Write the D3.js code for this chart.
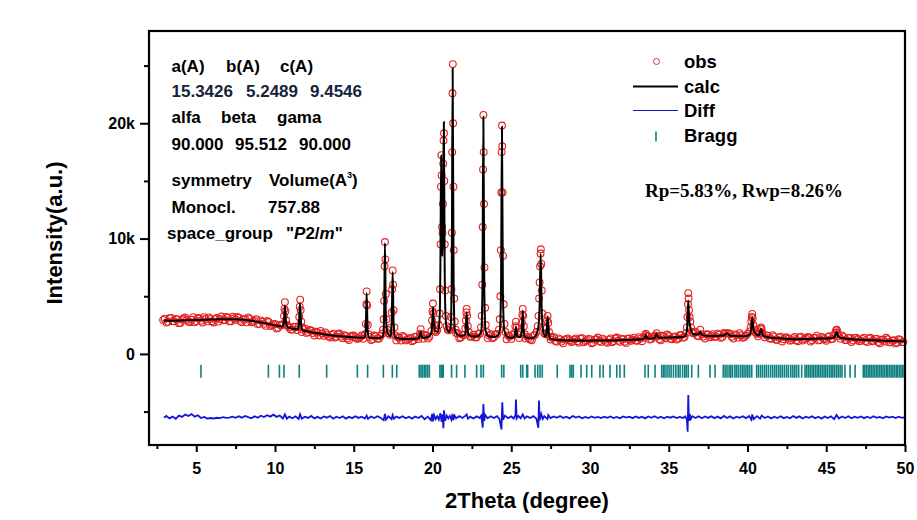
<!DOCTYPE html>
<html><head><meta charset="utf-8">
<script src="https://cdn.jsdelivr.net/npm/d3@7/dist/d3.min.js"></script>
<style>body{margin:0;background:#fff}svg{display:block}</style>
</head><body><svg id="c" width="917" height="520"></svg>
<script>
// ---------- data ----------
const xTicksMajor = [5,10,15,20,25,30,35,40,45,50];
const xTicksMinor = [2.5,7.5,12.5,17.5,22.5,27.5,32.5,37.5,42.5,47.5];
const yTicksMajor = [0,10000,20000];
const yTickLabels = ["0","10k","20k"];
const yTicksMinor = [-5000,5000,15000,25000];
const diffOffset = -5500;

// calculated profile [2theta, intensity]
const calcPts = [
[2.95,2900],[3.5,2880],[4.0,2900],[4.5,2920],[5.0,2940],[5.5,2960],[6.0,2980],[6.5,3000],[7.0,3010],[7.5,3000],[8.0,2960],[8.5,2870],[9.0,2760],[9.5,2620],[10.0,2480],[10.3,2400],
[10.45,2370],[10.56,2750],[10.63,4200],[10.70,2700],[10.82,2300],[11.0,2230],[11.3,2150],
[11.45,2120],[11.52,2600],[11.59,4400],[11.66,2550],[11.75,2060],
[12.0,1960],[12.5,1830],[13.0,1720],[13.5,1620],[14.0,1550],[14.5,1490],[15.0,1440],[15.5,1400],
[15.7,1420],[15.76,2100],[15.82,5270],[15.88,2050],[15.97,1400],
[16.3,1380],[16.6,1380],[16.8,1450],
[16.88,1700],[16.93,3500],[16.98,9620],[17.04,3300],[17.12,1900],[17.2,1700],
[17.34,1500],[17.41,2800],[17.47,7100],[17.53,2700],[17.62,1450],
[17.9,1320],[18.3,1290],[18.7,1300],[19.0,1330],
[19.15,1380],[19.25,1900],[19.35,1400],[19.6,1420],[19.8,1550],
[19.92,1800],[19.98,2600],[20.03,4050],[20.09,2600],[20.18,2000],
[20.35,1900],[20.45,3000],[20.50,7500],[20.55,17200],[20.60,9000],[20.64,8500],[20.68,14000],[20.72,20100],[20.77,8000],[20.83,3200],[20.92,2100],
[21.05,1900],[21.15,2200],[21.22,6500],[21.28,24780],[21.34,6000],[21.42,2100],
[21.6,1650],[21.9,1550],
[22.07,1700],[22.12,2300],[22.17,3620],[22.22,2300],[22.3,1650],
[22.6,1500],[22.9,1550],
[23.1,2000],[23.17,5500],[23.23,20570],[23.29,5300],[23.37,2000],
[23.6,1500],[23.9,1480],[24.15,1600],
[24.28,2100],[24.35,5600],[24.41,19700],[24.47,5300],[24.56,2000],
[24.8,1450],[25.1,1400],
[25.22,1550],[25.3,2350],[25.38,1550],[25.55,1450],
[25.64,1650],[25.68,2300],[25.73,3770],[25.78,2200],[25.86,1500],
[26.1,1350],[26.4,1400],[26.6,1700],
[26.72,2300],[26.8,4200],[26.87,8690],[26.93,4000],[27.02,2000],
[27.18,1500],[27.25,2000],[27.31,3240],[27.37,1950],[27.46,1350],
[27.8,1220],[28.3,1180],[29.0,1160],[29.8,1150],[30.5,1160],[31.3,1170],[32.0,1200],[32.7,1230],[33.3,1280],
[33.45,1320],[33.55,1650],[33.65,1330],
[33.9,1340],[34.1,1380],[34.23,1700],[34.35,1400],[34.8,1420],[35.3,1430],[35.8,1460],[36.05,1550],
[36.14,1900],[36.19,2900],[36.24,4630],[36.29,3000],[36.35,2500],[36.45,1900],[36.6,1700],
[36.9,1680],[37.0,1950],[37.1,1650],
[37.5,1560],[38.0,1560],[38.5,1600],[38.7,1800],[38.9,1580],[39.3,1550],[39.7,1520],[40.05,1600],
[40.18,1800],[40.24,2300],[40.3,3190],[40.36,2300],[40.48,1800],
[40.72,1600],[40.86,2170],[40.98,1580],
[41.4,1430],[42.0,1350],[42.6,1300],[43.2,1280],[43.8,1290],[44.4,1320],[45.0,1340],[45.4,1380],
[45.55,1500],[45.66,1970],[45.76,1500],
[46.1,1360],[46.7,1280],[47.3,1220],[48.0,1180],[48.7,1140],[49.4,1110],[50.0,1080]
];

// observed points [2theta, intensity]
const obsPts = [
[2.9,2950],[3.0,3050],[3.2,2780],[3.4,3120],[3.6,2830],[3.8,2990],[4.0,2690],[4.2,3085],[4.4,2935],[4.6,2755],[4.8,3190],
[5.0,2850],[5.2,3065],[5.4,2725],[5.6,3025],[5.8,3160],[6.0,2840],[6.2,3020],[6.4,2795],[6.6,3240],[6.8,2955],
[7.0,3140],[7.2,2828],[7.4,3073],[7.6,3205],[7.8,2860],[8.0,3000],[8.2,2735],[8.4,3040],[8.6,2790],[8.8,3005],
[9.0,2610],[9.2,2785],[9.4,2430],[9.6,2760],[9.8,2495],[10.0,2600],[10.2,2270],[10.4,2475],
[10.52,2600],[10.57,3300],[10.6,3900],[10.63,4490],[10.66,3700],[10.7,2900],[10.75,2500],
[10.8,2440],[11.0,2120],[11.2,2360],[11.4,2070],
[11.5,2400],[11.54,3200],[11.57,4100],[11.6,4700],[11.63,3800],[11.67,2800],[11.72,2300],
[11.8,2120],[12.0,1820],[12.2,2080],[12.4,1805],[12.6,1920],[12.8,1595],[13.0,1780],[13.2,1870],[13.4,1520],[13.6,1645],
[13.8,1420],[14.0,1700],[14.2,1495],[14.4,1620],[14.6,1340],[14.8,1520],[15.0,1610],[15.2,1315],[15.4,1440],[15.6,1310],
[15.72,1700],[15.77,2600],[15.8,4300],[15.82,5420],[15.85,4200],[15.89,2500],[15.94,1700],
[16.0,1475],[16.2,1265],[16.4,1530],[16.6,1320],[16.8,1750],
[16.86,2100],[16.9,3000],[16.93,4600],[16.96,7600],[16.98,9700],[17.01,8200],[17.04,5200],[17.08,3000],[17.13,2100],[17.2,1800],
[17.3,1650],[17.37,2300],[17.41,3600],[17.44,5600],[17.47,7240],[17.5,6000],[17.53,3800],[17.58,2300],[17.64,1600],
[17.8,1450],[18.0,1160],[18.2,1465],[18.4,1250],[18.6,1385],[18.8,1175],[19.0,1490],
[19.2,1750],[19.25,2150],[19.3,1700],[19.4,1320],[19.6,1590],[19.8,1490],
[19.93,2000],[19.97,2900],[20.0,3700],[20.03,4370],[20.06,3500],[20.1,2500],[20.15,2000],[20.22,1900],[20.3,2050],
[20.4,2500],[20.45,3500],[20.48,5600],[20.51,9500],[20.54,14500],[20.56,17240],[20.58,15500],[20.61,11000],[20.64,10500],[20.66,13000],
[20.68,16500],[20.7,18500],[20.73,19130],[20.75,15000],[20.78,9500],[20.81,5500],[20.85,3300],[20.9,2400],[20.97,2100],[21.05,2050],
[21.13,2300],[21.17,3200],[21.2,5600],[21.23,10500],[21.25,17500],[21.27,22600],[21.29,25130],[21.31,20000],[21.33,14500],[21.35,9000],
[21.38,4800],[21.42,2800],[21.47,2100],[21.6,1770],[21.8,1430],[22.0,1640],
[22.08,2200],[22.12,2900],[22.15,3600],[22.17,3900],[22.2,3300],[22.24,2400],[22.3,1900],
[22.4,1480],[22.6,1660],[22.8,1440],[23.0,1750],
[23.08,2300],[23.12,3300],[23.16,6000],[23.19,11000],[23.21,16000],[23.23,20720],[23.25,17500],[23.27,13000],[23.3,7500],[23.34,4000],[23.38,2500],[23.44,1900],
[23.6,1600],[23.8,1350],[24.0,1700],
[24.22,2100],[24.27,3000],[24.31,5000],[24.34,9000],[24.37,14000],[24.39,17500],[24.41,19800],[24.43,18000],[24.45,14000],[24.48,8500],[24.52,4300],[24.57,2600],[24.63,1900],
[24.8,1590],[25.0,1300],
[25.2,1800],[25.26,2400],[25.3,2800],[25.34,2300],[25.4,1700],[25.5,1370],
[25.62,1900],[25.67,2700],[25.7,3400],[25.73,3900],[25.76,3300],[25.8,2400],[25.86,1700],
[26.0,1500],[26.2,1250],[26.4,1560],[26.6,1900],
[26.68,2400],[26.73,3300],[26.77,4800],[26.8,6200],[26.83,7600],[26.86,8700],[26.88,9070],[26.91,7800],[26.94,5500],[26.98,3500],[27.03,2300],[27.1,1800],
[27.18,1700],[27.23,2200],[27.27,2900],[27.31,3300],[27.35,2700],[27.4,1900],[27.47,1500],
[27.6,1400],[27.8,1120],[28.0,1350],[28.2,1065],[28.4,1240],[28.6,1345],[28.8,1030],[29.0,1250],[29.2,1098],[29.4,1335],
[29.6,1002],[29.8,1190],[30.0,1282],[30.2,985],[30.4,1268],[30.6,1110],[30.8,1323],[31.0,1046],[31.2,1239],[31.4,1015],
[31.6,1332],[31.8,1150],[32.0,1320],[32.2,1059],[32.4,1307],[32.6,1146],[32.8,1407],[33.0,1140],[33.2,1328],
[33.4,1420],[33.5,1650],[33.55,1750],[33.6,1550],[33.8,1245],[34.0,1480],
[34.15,1600],[34.23,1800],[34.3,1550],[34.4,1260],[34.6,1572],[34.8,1360],[35.0,1554],[35.2,1268],[35.4,1504],[35.6,1336],[35.8,1640],[36.0,1460],
[36.1,1800],[36.15,2300],[36.19,3200],[36.22,4300],[36.24,5270],[36.26,4800],[36.29,3800],[36.33,3200],[36.37,2800],[36.42,2300],[36.48,1900],
[36.6,1800],[36.8,1580],[37.0,2100],[37.2,1500],[37.4,1700],[37.6,1450],[37.8,1710],[38.0,1500],[38.2,1670],[38.4,1465],
[38.6,1800],[38.8,1800],[39.0,1485],[39.2,1695],[39.4,1415],[39.6,1615],[39.8,1470],[40.0,1740],
[40.14,1950],[40.2,2300],[40.24,2800],[40.27,3200],[40.3,3470],[40.33,3100],[40.37,2500],[40.42,2100],[40.5,1850],[40.6,1740],
[40.72,1750],[40.78,1950],[40.83,2200],[40.86,2300],[40.9,2150],[40.96,1800],
[41.1,1440],[41.3,1580],[41.5,1300],[41.7,1495],[41.9,1225],[42.1,1495],[42.3,1275],[42.5,1418],[42.7,1147],[42.9,1370],
[43.1,1183],[43.3,1440],[43.5,1154],[43.7,1338],[43.9,1442],[44.1,1185],[44.3,1405],[44.5,1172],[44.7,1460],[44.9,1277],
[45.1,1470],[45.3,1270],[45.5,1600],[45.58,1850],[45.63,2050],[45.67,2100],[45.72,1850],[45.8,1550],
[45.9,1320],[46.1,1480],[46.3,1195],[46.5,1405],[46.7,1170],[46.9,1402],[47.1,1090],[47.3,1300],[47.5,1109],[47.7,1347],
[47.9,1096],[48.1,1294],[48.3,1033],[48.5,1241],[48.7,1080],[48.9,1272],[49.1,1003],[49.3,1184],[49.5,992],[49.7,1212],[49.9,1023],
// interleaved scan points between the ones above
[3.1,2715],[3.3,3095],[3.5,2840],[3.7,3035],[3.9,2665],[4.1,2985],[4.3,3170],[4.5,2800],[4.7,2960],[4.9,2738],
[5.1,3114],[5.3,2882],[5.5,3190],[5.7,2818],[5.9,3036],[6.1,2724],[6.3,3112],[6.5,3020],[6.7,2914],[6.9,3198],
[7.1,2830],[7.3,3215],[7.5,2960],[7.7,3135],[7.9,2738],[8.1,3025],[8.3,3165],[8.5,2750],[8.7,2855],[8.9,2580],
[9.1,2905],[9.3,2605],[9.5,2850],[9.7,2415],[9.9,2570],[10.1,2195],[10.3,2520],[10.9,2285],[11.1,2110],[11.3,2340],
[11.7,1890],[11.9,2210],[12.1,1895],[12.3,2030],[12.5,1600],[12.7,1865],[12.9,2000],[13.1,1580],[13.3,1690],[13.5,1420],
[13.7,1760],[13.9,1490],[14.1,1768],[14.3,1364],[14.5,1550],[14.7,1210],[14.9,1570],[15.1,1452],[15.3,1326],[15.5,1590],
[16.1,1210],[16.3,1590],[16.5,1340],[16.7,1550],[17.7,1170],[17.9,1400],[18.1,1565],[18.3,1170],[18.5,1325],[18.7,1100],
[18.9,1490],[19.1,1290],[19.5,1640],[19.7,1330],[21.5,1810],[21.7,1360],[21.9,1670],[22.5,1500],[22.7,1420],[22.9,1740],
[23.5,1370],[23.7,1700],[23.9,1440],[24.1,1710],[24.7,1270],[24.9,1510],[25.1,1660],[25.9,1330],[26.1,1380],[26.3,1180],
[26.5,1670],[27.5,1250],[27.7,1470],[27.9,1060],[28.1,1255],[28.3,920],[28.5,1295],[28.7,1190],[28.9,1072],[29.1,1348],
[29.3,976],[29.5,1363],[29.7,1111],[29.9,1300],[30.1,923],[30.3,1236],[30.5,1420],[30.7,1042],[30.9,1195],[31.1,968],
[31.3,1340],[31.5,1109],[31.7,1417],[31.9,1046],[32.1,1264],[32.3,953],[32.5,1341],[32.7,1250],[32.9,1155],[33.1,1452],
[33.3,1100],[33.7,1540],[33.9,1300],[34.1,1530],[34.5,1175],[34.7,1496],[34.9,1682],[35.1,1306],[35.3,1460],[35.5,1240],
[35.7,1624],[35.9,1410],[36.55,1780],[36.7,1920],[36.9,1530],[37.1,1710],[37.3,1340],[37.5,1680],[37.7,1580],[37.9,1470],
[38.1,1755],[38.3,1398],[38.5,1810],[38.7,1760],[38.9,1730],[39.1,1330],[39.3,1630],[39.5,1795],[39.7,1400],[39.9,1590],
[40.66,1520],[41.2,1610],[41.4,1360],[41.6,1630],[41.8,1230],[42.0,1410],[42.2,1075],[42.4,1437],[42.6,1320],[42.8,1203],
[43.0,1477],[43.2,1100],[43.4,1492],[43.6,1246],[43.8,1440],[44.0,1070],[44.2,1390],[44.4,1580],[44.6,1206],[44.8,1363],
[45.0,1140],[45.2,1530],[45.4,1310],[46.0,1600],[46.2,1197],[46.4,1380],[46.6,1033],[46.8,1390],[47.0,1270],[47.2,1140],
[47.4,1404],[47.6,1023],[47.8,1401],[48.0,1140],[48.2,1319],[48.4,927],[48.6,1226],[48.8,1396],[49.0,1007],[49.2,1149],
[49.4,910],[49.6,1267],[49.8,1017]
];

// residual obs - calc [2theta, difference]
const diffPts = [
[2.95,-40],[3.1,120],[3.3,-90],[3.5,60],[3.7,-130],[3.9,150],[4.1,40],[4.3,250],[4.5,110],[4.7,280],[4.9,60],[5.1,180],[5.3,-60],[5.5,30],
[5.7,-110],[5.9,-60],[6.1,-100],[6.3,-40],[6.5,-70],[6.7,10],[6.9,-50],[7.1,-20],[7.3,60],[7.5,-40],[7.7,90],[7.9,-30],[8.1,120],[8.3,10],
[8.5,-80],[8.7,100],[8.9,-40],[9.1,140],[9.3,20],[9.5,180],[9.7,60],[9.9,230],[10.1,40],[10.3,160],[10.5,-100],[10.63,260],[10.75,-120],
[10.9,60],[11.1,-80],[11.3,90],[11.5,-140],[11.59,270],[11.7,-110],[11.9,60],[12.1,-50],[12.3,120],[12.5,-90],[12.7,40],[12.9,-100],
[13.1,80],[13.3,-30],[13.5,110],[13.7,-120],[13.9,50],[14.1,-60],[14.3,90],[14.5,-110],[14.7,40],[14.9,-70],[15.1,100],[15.3,-50],
[15.5,60],[15.7,-100],[15.82,150],[15.9,-130],[16.1,70],[16.3,-60],[16.5,90],[16.7,-40],[16.9,-250],[16.98,300],[17.05,-200],[17.2,80],
[17.4,-150],[17.47,200],[17.55,-120],[17.7,60],[17.9,-50],[18.1,90],[18.3,-80],[18.5,50],[18.7,-110],[18.9,70],[19.1,-60],[19.3,120],
[19.5,-160],[19.7,60],[19.9,-250],[19.98,300],[20.03,-350],[20.1,200],[20.2,-150],[20.3,100],[20.4,-200],[20.5,350],[20.58,-400],
[20.64,250],[20.69,-950],[20.73,600],[20.8,-300],[20.9,150],[21.0,-100],[21.1,120],[21.2,-200],[21.27,300],[21.32,-250],[21.4,150],
[21.5,-80],[21.7,100],[21.9,-60],[22.1,150],[22.17,250],[22.25,-120],[22.4,60],[22.6,-100],[22.8,80],[23.0,-60],[23.1,150],
[23.19,-900],[23.23,1150],[23.28,-300],[23.35,200],[23.5,-80],[23.7,90],[23.9,-60],[24.1,100],[24.25,-150],[24.38,-1050],[24.43,1300],
[24.48,-200],[24.6,150],[24.8,-70],[25.0,80],[25.15,-100],[25.27,200],[25.3,1550],[25.34,-100],[25.45,120],[25.6,-80],[25.73,250],
[25.85,-100],[26.0,80],[26.2,-60],[26.4,100],[26.6,-120],[26.72,-900],[26.76,1450],[26.8,-250],[26.9,300],[27.0,-150],[27.1,100],
[27.3,-150],[27.35,200],[27.5,-60],[27.7,80],[27.9,-40],[28.1,120],[28.3,-50],[28.5,60],[28.7,-90],[28.9,110],[29.1,-20],[29.3,70],
[29.5,-80],[29.7,40],[29.9,-60],[30.1,80],[30.3,-50],[30.5,30],[30.7,-70],[30.9,60],[31.1,-40],[31.3,80],[31.5,-60],[31.7,40],
[31.9,-80],[32.1,70],[32.3,-30],[32.5,50],[32.7,-70],[32.9,80],[33.1,-50],[33.3,60],[33.5,-90],[33.7,70],[33.9,-40],[34.1,90],
[34.3,-60],[34.5,50],[34.7,-80],[34.9,60],[35.1,-30],[35.3,80],[35.5,-70],[35.7,40],[35.9,-50],[36.05,80],[36.15,-200],[36.2,-1250],
[36.24,1930],[36.28,-300],[36.33,300],[36.4,-150],[36.5,100],[36.7,-60],[36.9,90],[37.1,-80],[37.3,70],[37.5,-50],[37.7,100],
[37.9,-70],[38.1,60],[38.3,-90],[38.5,120],[38.7,-60],[38.9,80],[39.1,-100],[39.3,60],[39.5,-40],[39.7,90],[39.9,-70],[40.1,120],
[40.25,-200],[40.3,250],[40.4,-150],[40.6,100],[40.8,-120],[40.9,150],[41.1,-60],[41.3,70],[41.5,-90],[41.7,50],[41.9,-60],[42.1,90],
[42.3,-70],[42.5,40],[42.7,-80],[42.9,110],[43.1,-50],[43.3,80],[43.5,-100],[43.7,60],[43.9,-40],[44.1,100],[44.3,-80],[44.5,50],
[44.7,-110],[44.9,70],[45.1,-60],[45.3,90],[45.5,-150],[45.66,200],[45.8,-100],[46.0,70],[46.2,-60],[46.4,90],[46.6,-80],[46.8,60],
[47.0,-40],[47.2,80],[47.4,-70],[47.6,50],[47.8,-60],[48.0,90],[48.2,-50],[48.4,40],[48.6,-80],[48.8,70],[49.0,-30],[49.2,60],
[49.4,-70],[49.6,50],[49.8,-40],[50.0,20]
];

// Bragg reflection positions (2theta)
const braggPos = [
5.30,9.58,10.28,10.57,11.54,13.28,15.23,15.88,16.88,17.45,17.73,
19.16,19.27,19.37,19.48,19.58,19.69,19.80,20.47,20.55,20.62,20.68,21.21,21.53,22.06,22.80,23.08,23.23,24.39,24.53,25.60,25.73,25.98,
26.04,26.51,26.68,26.83,26.97,27.92,28.73,28.84,28.94,29.43,29.79,30.11,30.63,30.84,31.27,31.70,31.90,32.18,33.49,33.70,34.13,
34.55,34.66,34.76,34.89,35.02,35.15,35.30,35.45,35.60,35.72,35.88,36.02,36.12,36.24,36.46,36.88,37.62,37.94,
38.46,38.58,38.70,38.83,38.94,39.05,39.20,39.30,39.42,39.55,39.67,39.78,39.90,40.02,40.14,40.27,
40.58,40.70,40.83,40.95,41.08,41.20,41.33,41.47,41.60,41.73,41.85,41.98,42.10,42.22,42.35,42.48,42.60,42.75,42.88,43.00,43.12,43.25,43.44,
43.65,43.76,43.87,43.98,44.10,44.20,44.31,44.42,44.53,44.64,44.75,44.86,44.97,45.08,45.20,45.31,45.42,45.53,45.65,45.76,45.88,46.00,46.19,
46.51,46.83,47.35,47.45,47.55,47.66,47.76,47.86,47.97,48.07,48.18,48.28,48.39,48.49,48.60,48.70,48.81,48.91,49.02,49.12,49.23,49.33,49.44,49.54,49.65,49.75,49.86,49.96
];
const braggLevel = -1500;

const legendLabels = ["obs","calc","Diff","Bragg"];
const cellHeader = ["a(A)","b(A)","c(A)"];
const cellValues = ["15.3426","5.2489","9.4546"];
const angleHeader = ["alfa","beta","gama"];
const angleValues = ["90.000","95.512","90.000"];
const symmetryLabel = "symmetry", volumeLabel = "Volume(A", crystalSystem = "Monocl.", volumeValue = "757.88";
const spaceGroupLabel = "space_group";
const rFactors = "Rp=5.83%, Rwp=8.26%";
const xTitle = "2Theta (degree)", yTitle = "Intensity(a.u.)";

// ---------- drawing ----------
const svg = d3.select("#c");
const F = "Arial, 'Liberation Sans', sans-serif";
const L = 149, R = 905, T = 31, B = 445;
const x = d3.scaleLinear().domain([2,50]).range([L,R]);
const y = d3.scaleLinear().domain([-7900,28000]).range([B,T]);
const obsCol = "#e4201e", calcCol = "#000", diffCol = "#1414d8", braggCol = "#0e8080";

// obs circles
svg.append("g").selectAll("circle").data(obsPts).join("circle")
  .attr("cx", d=>x(d[0])).attr("cy", d=>y(d[1])).attr("r",3.4)
  .attr("fill","none").attr("stroke",obsCol).attr("stroke-width",1.1);

// calc line
svg.append("path").datum(calcPts)
  .attr("d", d3.line().x(d=>x(d[0])).y(d=>y(d[1])).curve(d3.curveMonotoneX))
  .attr("fill","none").attr("stroke",calcCol).attr("stroke-width",2);

// Bragg ticks
svg.append("g").selectAll("line").data(braggPos).join("line")
  .attr("x1", d=>x(d)).attr("x2", d=>x(d))
  .attr("y1", y(braggLevel)-6.5).attr("y2", y(braggLevel)+6.5)
  .attr("stroke",braggCol).attr("stroke-width",1.6);

// diff line
svg.append("path").datum(diffPts)
  .attr("d", d3.line().x(d=>x(d[0])).y(d=>y(d[1]+diffOffset)))
  .attr("fill","none").attr("stroke",diffCol).attr("stroke-width",1.8);

// frame
svg.append("rect").attr("x",L).attr("y",T).attr("width",R-L).attr("height",B-T)
  .attr("fill","none").attr("stroke","#000").attr("stroke-width",2.2);

// axes
function styleAxis(g){
  g.select(".domain").remove();
  g.selectAll(".tick line").attr("stroke","#000").attr("stroke-width",2);
  g.selectAll("text").attr("font-family",F).attr("font-weight","bold").attr("font-size",16).attr("fill","#000");
}
svg.append("g").attr("transform",`translate(0,${B})`)
  .call(d3.axisBottom(x).tickValues(xTicksMajor).tickSize(7).tickPadding(11).tickFormat(d3.format("d"))).call(styleAxis);
svg.append("g").attr("transform",`translate(0,${B})`)
  .call(d3.axisBottom(x).tickValues(xTicksMinor).tickSize(4).tickFormat("")).call(styleAxis);
svg.append("g").attr("transform",`translate(${L},0)`)
  .call(d3.axisLeft(y).tickValues(yTicksMajor).tickSize(9).tickPadding(5).tickFormat((d,i)=>yTickLabels[i])).call(styleAxis);
svg.append("g").attr("transform",`translate(${L},0)`)
  .call(d3.axisLeft(y).tickValues(yTicksMinor).tickSize(5).tickFormat("")).call(styleAxis);

// axis titles
svg.append("text").attr("x",(L+R)/2).attr("y",508).attr("text-anchor","middle")
  .attr("font-family",F).attr("font-weight","bold").attr("font-size",22).text(xTitle);
svg.append("text").attr("transform","translate(62,233) rotate(-90)").attr("text-anchor","middle")
  .attr("font-family",F).attr("font-weight","bold").attr("font-size",22).text(yTitle);

// annotation block
const ann = svg.append("g").attr("font-family",F).attr("font-weight","bold").attr("font-size",17).attr("fill","#000");
function put(t,xx,yy,col){ return ann.append("text").attr("x",xx).attr("y",yy).attr("fill",col||"#000").text(t); }
[171.5,226,280].forEach((xx,i)=>put(cellHeader[i],xx,72));
[171.5,246,310].forEach((xx,i)=>put(cellValues[i],xx,97,"#16233b"));
[171.5,221,277].forEach((xx,i)=>put(angleHeader[i],xx,123));
[171.5,235,299].forEach((xx,i)=>put(angleValues[i],xx,150));
put(symmetryLabel,171.5,186);
const vol = put(volumeLabel,269,186);
vol.append("tspan").attr("font-size",9).attr("dy",-8).text("3");
vol.append("tspan").attr("dy",8).text(")");
put(crystalSystem,171.5,213);
put(volumeValue,268,213);
put(spaceGroupLabel,167,239);
const sg = put('"',286,239);
sg.append("tspan").attr("font-style","italic").text("P");
sg.append("tspan").text("2/");
sg.append("tspan").attr("font-style","italic").text("m");
sg.append("tspan").text('"');

// legend
const lg = svg.append("g").attr("font-family",F).attr("font-weight","bold").attr("font-size",18.5);
const ly = [68,93,117,141.5];
lg.append("circle").attr("cx",656.5).attr("cy",ly[0]-6.5).attr("r",3).attr("fill","none").attr("stroke","#c83a3a").attr("stroke-width",1);
lg.append("line").attr("x1",633).attr("x2",678).attr("y1",ly[1]-6.5).attr("y2",ly[1]-6.5).attr("stroke",calcCol).attr("stroke-width",2);
lg.append("line").attr("x1",633).attr("x2",678).attr("y1",ly[2]-6.5).attr("y2",ly[2]-6.5).attr("stroke",diffCol).attr("stroke-width",1.2);
lg.append("line").attr("x1",656).attr("x2",656).attr("y1",ly[3]-10).attr("y2",ly[3]).attr("stroke",braggCol).attr("stroke-width",1.6);
legendLabels.forEach((t,i)=>lg.append("text").attr("x",684).attr("y",ly[i]).text(t));

// R factors
svg.append("text").attr("x",645).attr("y",197)
  .attr("font-family","'Times New Roman','Liberation Serif',serif").attr("font-weight","bold").attr("font-size",19).text(rFactors);
</script></body></html>
